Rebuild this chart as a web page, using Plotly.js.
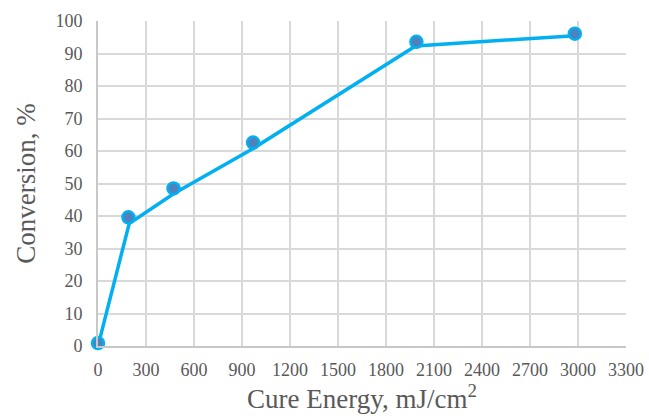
<!DOCTYPE html>
<html>
<head>
<meta charset="utf-8">
<script src="https://cdn.plot.ly/plotly-3.0.1.min.js"></script>
<style>html,body{margin:0;padding:0;background:#fff;}#chart{width:649px;height:416px;}
#chart text{font-family:"Liberation Serif","Times New Roman",serif !important;}</style>
</head>
<body>
<div id="chart"></div>
<script>
// Measured points (markers)
const markerEnergy = [0, 190, 472, 969, 1990, 2980];
const markerConversion = [0.9, 39.6, 48.5, 62.6, 93.6, 96.1];
// Connecting line vertices
const lineEnergy = [0, 195, 475, 970, 1985, 2980];
const lineConversion = [0, 37.7, 46.9, 60.8, 92.3, 95.5];
const xTicks = [0, 300, 600, 900, 1200, 1500, 1800, 2100, 2400, 2700, 3000, 3300];
const yTicks = [0, 10, 20, 30, 40, 50, 60, 70, 80, 90, 100];

const font = "Times New Roman, Liberation Serif, serif";
const traces = [
  {x: lineEnergy, y: lineConversion, mode: 'lines', type: 'scatter',
   line: {color: '#00b0f0', width: 3.5}, cliponaxis: false, hoverinfo: 'skip'},
  {x: markerEnergy, y: markerConversion, mode: 'markers', type: 'scatter',
   marker: {color: '#4f81bd', size: 12, line: {color: '#00b0f0', width: 2.5}}, cliponaxis: false}
];
const layout = {
  width: 649, height: 416,
  margin: {l: 98, r: 23, t: 21, b: 70},
  paper_bgcolor: '#fff', plot_bgcolor: '#fff',
  showlegend: false,
  font: {family: font, color: '#595959', size: 18},
  xaxis: {
    range: [0, 3300], tickvals: xTicks, ticktext: xTicks.map(String),
    showgrid: true, gridcolor: '#d9d9d9', gridwidth: 2,
    showline: true, linecolor: '#c8c8c8', linewidth: 2,
    zeroline: false, ticks: '', ticklabelstandoff: 6,
    tickfont: {family: font, size: 18, color: '#595959'},
    title: {text: 'Cure Energy, mJ/cm<sup>2</sup>', font: {family: font, size: 27, color: '#595959'}, standoff: 8}
  },
  yaxis: {
    range: [0, 100], tickvals: yTicks, ticktext: yTicks.map(String),
    showgrid: true, gridcolor: '#d9d9d9', gridwidth: 2,
    showline: true, linecolor: '#c8c8c8', linewidth: 2,
    zeroline: false, ticks: '', ticklabelstandoff: 10,
    tickfont: {family: font, size: 18, color: '#595959'},
    title: {text: 'Conversion, %', font: {family: font, size: 27, color: '#595959'}, standoff: 12}
  }
};
Plotly.newPlot('chart', traces, layout, {staticPlot: true, displayModeBar: false});
</script>
</body>
</html>
